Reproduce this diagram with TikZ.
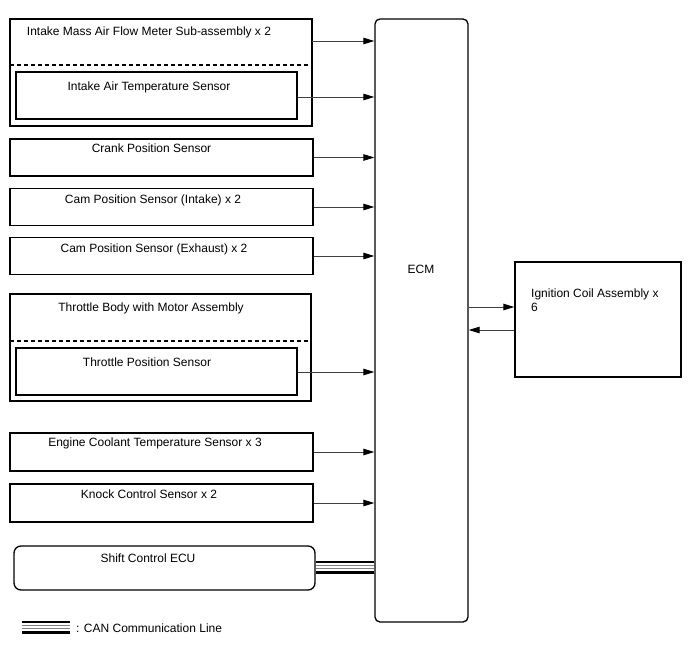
\documentclass[tikz,border=0pt]{standalone}
\usepackage{fontspec}
\setmainfont{Liberation Sans}
\usetikzlibrary{arrows.meta}
\begin{document}
\begin{tikzpicture}[x=1pt,y=-1pt,
  box/.style={draw=black,line width=1.3pt},
  lbl/.style={font=\fontsize{12}{14}\selectfont,anchor=base,inner sep=0pt},
  sig/.style={draw=black!75,line width=0.9pt,-{Triangle[length=11pt,width=6.5pt,fill=black,color=black]}},
  canblk/.style={draw=black,line width=2.8pt},
  cangry/.style={draw=black!50,line width=0.9pt}]
\useasboundingbox (0,0) rectangle (688,658);
% Intake mass air flow meter
\draw[box] (10,19) rectangle (312,126);
\draw[line width=1.3pt,dash pattern=on 4pt off 3pt] (10,65) -- (312,65);
\node[lbl] (imaf) at (149,36) {Intake Mass Air Flow Meter Sub-assembly x 2};
\node[box,minimum width=281pt,minimum height=47pt,inner sep=0pt] (iat) at (156.5,95.5) {};
\node[lbl] (iatl) at (149,91) {Intake Air Temperature Sensor};
\coordinate (imafout) at (312,41);
% ECM
\node[draw=black,line width=1.3pt,rounded corners=5pt,minimum width=93pt,minimum height=603pt,inner sep=0pt] (ecm) at (421.5,320.5) {};
\node[font=\fontsize{12}{14}\selectfont,inner sep=0pt,anchor=base] (ecml) at (421,273) {ECM};
% Sensors
\node[box,minimum width=303pt,minimum height=37pt,inner sep=0pt] (crank) at (161.5,157.5) {};
\node[lbl] at (151.5,153) {Crank Position Sensor};
\node[box,minimum width=303pt,minimum height=37pt,inner sep=0pt] (camin) at (161.5,207) {};
\node[lbl] at (153,203) {Cam Position Sensor (Intake) x 2};
\node[box,minimum width=303pt,minimum height=37pt,inner sep=0pt] (camex) at (161.5,256) {};
\node[lbl] at (154,252) {Cam Position Sensor (Exhaust) x 2};
% Throttle body
\draw[box] (10,294) rectangle (311,401);
\draw[line width=1.3pt,dash pattern=on 4pt off 3pt] (10,341) -- (311,341);
\node[lbl] (tb) at (151,311) {Throttle Body with Motor Assembly};
\node[box,minimum width=281pt,minimum height=47pt,inner sep=0pt] (tps) at (156.5,371.5) {};
\node[lbl] at (147,366) {Throttle Position Sensor};
\node[box,minimum width=303pt,minimum height=38pt,inner sep=0pt] (ect) at (161.5,452) {};
\node[lbl] at (155,446) {Engine Coolant Temperature Sensor x 3};
\node[box,minimum width=303pt,minimum height=38pt,inner sep=0pt] (knock) at (161.5,503) {};
\node[lbl] at (149,498) {Knock Control Sensor x 2};
% Shift control ECU
\node[box,rounded corners=7pt,minimum width=301pt,minimum height=44pt,inner sep=0pt] (shift) at (164.5,568) {};
\node[lbl] at (148,562) {Shift Control ECU};
% Ignition coil
\node[box,minimum width=166pt,minimum height=115pt,inner sep=0pt] (ign) at (598,319.5) {};
\node[font=\fontsize{12}{14}\selectfont,anchor=north west,align=left,inner sep=0pt] (ignl) at (531,289) {Ignition Coil Assembly x\\6};
% Arrows to ECM
\draw[sig] (imafout) -- (ecm.west |- imafout);
\draw[sig] (iat.east |- 0,97) -- (ecm.west |- 0,97);
\draw[sig] (crank.east) -- (ecm.west |- crank.east);
\draw[sig] (camin.east) -- (ecm.west |- camin.east);
\draw[sig] (camex.east) -- (ecm.west |- camex.east);
\draw[sig] (tps.east |- 0,372) -- (ecm.west |- 0,372);
\draw[sig] (ect.east) -- (ecm.west |- ect.east);
\draw[sig] (knock.east) -- (ecm.west |- knock.east);
% ECM <-> ignition
\draw[sig] (ecm.east |- 0,307) -- (ign.west |- 0,307);
\draw[sig] (ign.west |- 0,330) -- (ecm.east |- 0,330);
% CAN line
\draw[canblk] (shift.east |- 0,562) -- (ecm.west |- 0,562);
\draw[cangry] (shift.east |- 0,565.7) -- (ecm.west |- 0,565.7);
\draw[cangry] (shift.east |- 0,568.8) -- (ecm.west |- 0,568.8);
\draw[canblk] (shift.east |- 0,572.5) -- (ecm.west |- 0,572.5);
% Legend
\coordinate (lga) at (22,622);
\coordinate (lgb) at (70,622);
\draw[canblk] (lga) -- (lgb);
\draw[cangry] ([yshift=-3.7pt]lga) -- ([yshift=-3.7pt]lgb);
\draw[cangry] ([yshift=-6.8pt]lga) -- ([yshift=-6.8pt]lgb);
\draw[canblk] ([yshift=-10.5pt]lga) -- ([yshift=-10.5pt]lgb);
\node[font=\fontsize{12}{14}\selectfont,anchor=base west,inner sep=0pt] (lgl) at (76,632) {: CAN Communication Line};
\end{tikzpicture}
\end{document}
